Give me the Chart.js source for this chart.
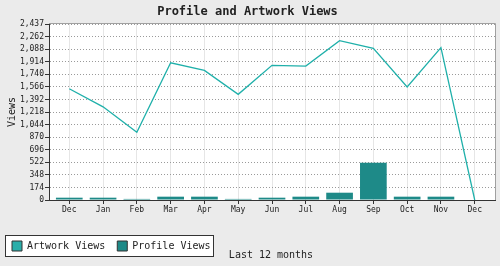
<!DOCTYPE html>
<html><head><meta charset="utf-8">
<script src="https://cdn.jsdelivr.net/npm/chart.js@4/dist/chart.umd.min.js"></script>
<style>html,body{margin:0;padding:0;background:#ebebeb}#wrap{width:500px;height:266px;position:relative}</style>
</head><body><div id="wrap"><canvas id="c" width="500" height="266"></canvas></div>
<script>
const months = ['Dec','Jan','Feb','Mar','Apr','May','Jun','Jul','Aug','Sep','Oct','Nov','Dec'];
const artworkViews = [1540,1290,937,1900,1795,1463,1865,1855,2206,2100,1565,2109,0];
const profileViews = [32,32,15,46,46,15,32,46,101,516,46,46,0];
const yTicks = [0,174,348,522,696,870,1044,1218,1392,1566,1740,1914,2088,2262,2437];
const seriesNames = ['Artwork Views','Profile Views'];
const chartTitle = 'Profile and Artwork Views';
const xTitle = 'Last 12 months';
const yTitle = 'Views';

const MONO = 'DejaVu Sans Mono';
const INK = '#222';
const LINE_C = '#1fb0aa';
const BAR_C = '#1e8a88';
const SWATCH = ['#2aaeaa', '#1e8a88'];

const pts = a => a.map((v, i) => ({x: i, y: v}));

const framePlugin = {
  id: 'frame',
  beforeDraw(chart) {
    const {ctx, chartArea: a} = chart;
    ctx.save();
    ctx.fillStyle = '#ebebeb';
    ctx.fillRect(0, 0, chart.width, chart.height);
    ctx.fillStyle = '#fff';
    ctx.fillRect(a.left, a.top, a.right - a.left, a.bottom - a.top);
    const hb = chart.legend && chart.legend.legendHitBoxes;
    if (hb && hb.length) {
      const f = hb[0], l = hb[hb.length - 1];
      const x0 = Math.round(f.left - 7) + 0.5, y0 = Math.round(f.top - 6) + 0.5;
      const x1 = Math.round(l.left + l.width + 2) + 0.5, y1 = Math.round(f.top + f.height + 5) + 0.5;
      ctx.fillStyle = '#fff';
      ctx.fillRect(x0, y0, x1 - x0, y1 - y0);
      ctx.strokeStyle = '#333';
      ctx.lineWidth = 1;
      ctx.strokeRect(x0, y0, x1 - x0, y1 - y0);
    }
    ctx.restore();
  },
  afterDatasetsDraw(chart) {
    const {ctx, chartArea: a} = chart;
    ctx.save();
    ctx.strokeStyle = '#a0a0a0';
    ctx.lineWidth = 1;
    ctx.beginPath();
    ctx.moveTo(a.left, Math.round(a.top) - 0.5);
    ctx.lineTo(Math.round(a.right) + 0.5, Math.round(a.top) - 0.5);
    ctx.lineTo(Math.round(a.right) + 0.5, a.bottom);
    ctx.stroke();
    ctx.restore();
  },
  afterDraw(chart) {
    const {ctx} = chart;
    ctx.save();
    ctx.font = '10px "' + MONO + '"';
    ctx.fillStyle = INK;
    ctx.textAlign = 'center';
    ctx.textBaseline = 'middle';
    ctx.fillText(xTitle, 271, 255);
    ctx.restore();
  }
};

new Chart(document.getElementById('c'), {
  type: 'bar',
  data: {
    datasets: [
      {type: 'line', label: seriesNames[0], data: pts(artworkViews), borderColor: LINE_C, backgroundColor: SWATCH[0],
       borderWidth: 1.3, pointRadius: 0, tension: 0, order: 0},
      {type: 'bar', label: seriesNames[1], data: pts(profileViews), backgroundColor: BAR_C,
       borderWidth: 0, barPercentage: 0.79, categoryPercentage: 1, order: 1}
    ]
  },
  options: {
    responsive: false,
    devicePixelRatio: 1,
    animation: false,
    layout: {padding: {left: 0, right: 5, top: 0, bottom: 5}},
    plugins: {
      title: {display: true, text: chartTitle, color: INK, font: {family: MONO, size: 12, weight: 'bold'}, padding: {top: 5, bottom: 4.6}},
      legend: {
        position: 'bottom', align: 'start',
        labels: {
          boxWidth: 10, boxHeight: 10, padding: 12, color: INK, font: {family: MONO, size: 10},
          generateLabels(chart) {
            return chart.data.datasets.map((d, i) => ({
              text: d.label, fillStyle: SWATCH[i], strokeStyle: '#333', lineWidth: 1,
              hidden: false, datasetIndex: i, fontColor: INK
            }));
          }
        }
      },
      tooltip: {enabled: false}
    },
    scales: {
      x: {
        type: 'linear', min: -0.6, max: 12.6, offset: false,
        afterBuildTicks(s) { s.ticks = months.map((_, i) => ({value: i})); },
        afterFit(s) { s.height = 29; },
        ticks: {callback: v => months[v], color: INK, font: {family: MONO, size: 8}, padding: 1, maxRotation: 0, autoSkip: false},
        grid: {offset: false, color: '#e6e6e6', lineWidth: 1, tickColor: '#333', tickLength: 4, drawTicks: true},
        border: {color: '#333', width: 1, dash: []}
      },
      y: {
        type: 'linear', min: 0, max: 2437,
        afterBuildTicks(s) { s.ticks = yTicks.map(v => ({value: v})); },
        afterFit(s) { s.width = 49; },
        ticks: {callback: v => v.toLocaleString('en-US'), color: INK, font: {family: MONO, size: 8}, padding: 1, autoSkip: false},
        grid: {color: '#9a9a9a', lineWidth: 1, tickColor: '#333', tickLength: 4},
        border: {color: '#333', width: 1, dash: [1, 2]},
        title: {display: true, text: yTitle, color: INK, font: {family: MONO, size: 10}, padding: {top: 6, bottom: 0}}
      }
    }
  },
  plugins: [framePlugin]
});
</script></body></html>
